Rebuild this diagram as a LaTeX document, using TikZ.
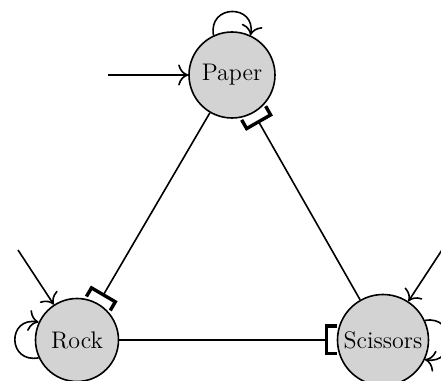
\documentclass[tikz,border=0pt]{standalone}
\usetikzlibrary{arrows.meta}
\definecolor{nodefill}{RGB}{211,211,211}
\begin{document}
\begin{tikzpicture}[x=0.5pt,y=0.5pt,
  statenode/.style={circle,draw,thick,fill=nodefill,inner sep=0pt,font=\large},
  act/.style={thick,-{To[scale=1.5]}},
  inhib/.style={thick,-{Bracket[reversed,width=15.5pt,length=5pt,line width=1.7pt]}}]
\useasboundingbox (0,0) rectangle (441,381);
\node[statenode,minimum size=43pt] (Paper) at (232,306) {Paper};
\node[statenode,minimum size=41.5pt] (Rock) at (77,41) {Rock};
\node[statenode,minimum size=45.5pt] (Scissors) at (383,41) {Scissors};
\coordinate (iP) at (108,306);
\coordinate (iR) at (18,131);
\coordinate (iS) at (442,131);
\draw[act] (iP) -- (Paper);
\draw[act] (iR) -- (Rock);
\draw[act] (iS) -- (Scissors);
\draw[act] (Paper.115) .. controls +(100:32) and +(80:32) .. (Paper.65);
\draw[act] (Rock.205) .. controls +(190:32) and +(170:32) .. (Rock.155);
\draw[act] (Scissors.25) .. controls +(10:32) and +(-10:32) .. (Scissors.-25);
\draw[inhib] (Paper) -- (Rock);
\draw[inhib] (Rock) -- (Scissors);
\draw[inhib] (Scissors) -- (Paper);
\end{tikzpicture}
\end{document}
